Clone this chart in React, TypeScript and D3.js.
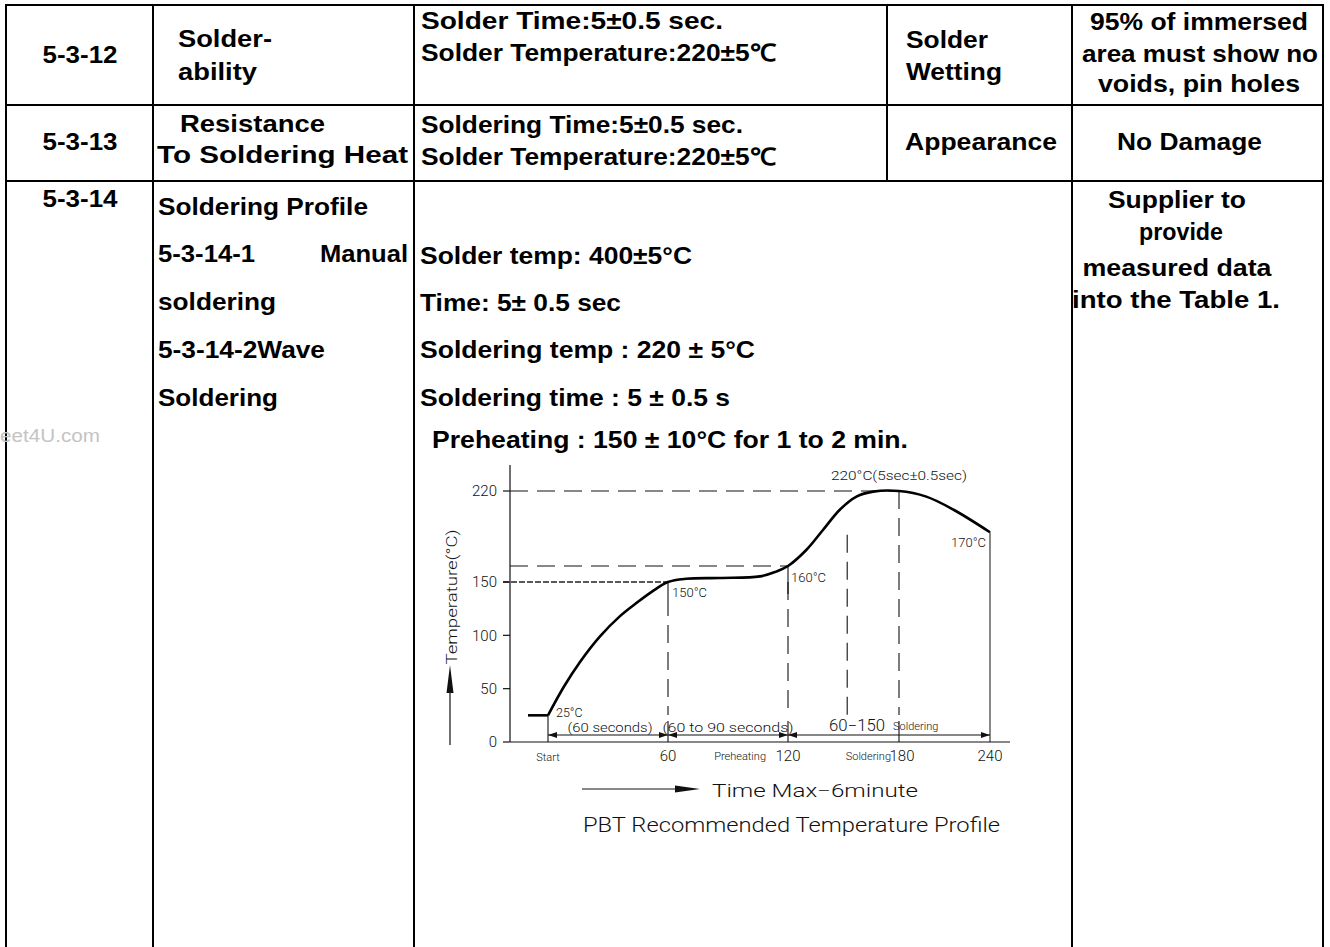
import * as d3 from "d3";

// chart values
const TIME_TICKS = [0, 60, 120, 180, 240];
const TIME_TICK_LABELS = ["Start", "60", "120", "180", "240"];
const TEMP_TICKS = [0, 50, 100, 150, 220];

const PROFILE_TIME = [0, 8, 16, 26, 36, 44, 52, 60, 69, 86, 106, 114, 120, 130, 139, 148, 157, 166, 180, 198, 216, 240];
const PROFILE_TEMP = [25, 52, 75, 99, 118, 130, 141, 150, 152, 152.5, 153.5, 156.5, 160, 173, 189, 205, 215.5, 219.5, 220, 215.5, 205, 187];
const PRE_START_TIME = [-10, 0];
const PRE_START_TEMP = [25, 25];

const H_GUIDE_TEMPS = [220, 160];
const H_GUIDE_ENDS = [180, 120];
const PREHEAT_TEMP = 150;
const PREHEAT_END = 60;
const V_GUIDE_TIMES = [60, 120, 152, 180];
const V_GUIDE_TOPS = [150, 160, 185, 220];
const DIM_BOUNDS = [0, 60, 120, 240];

type Line = { t: string; x: number; y: number; w: number; fs?: number; a?: "start" | "middle" | "end" };

const TABLE_LINES: Line[] = [
  { t: "5-3-12", x: 80, y: 63, w: 75, fs: 23, a: "middle" },
  { t: "Solder-", x: 178, y: 47, w: 94 },
  { t: "ability", x: 178, y: 80, w: 79 },
  { t: "Solder Time:5±0.5 sec.", x: 421, y: 29, w: 302 },
  { t: "Solder Temperature:220±5℃", x: 421, y: 61, w: 355 },
  { t: "Solder", x: 906, y: 48, w: 82 },
  { t: "Wetting", x: 906, y: 80, w: 96 },
  { t: "95% of immersed", x: 1199, y: 30, w: 218, a: "middle" },
  { t: "area must show no", x: 1200, y: 62, w: 236, a: "middle" },
  { t: "voids, pin holes", x: 1199, y: 92, w: 202, a: "middle" },
  { t: "5-3-13", x: 80, y: 150, w: 75, fs: 23, a: "middle" },
  { t: "Resistance", x: 180, y: 132, w: 145 },
  { t: "To Soldering Heat", x: 157, y: 163, w: 251 },
  { t: "Soldering Time:5±0.5 sec.", x: 421, y: 133, w: 322 },
  { t: "Solder Temperature:220±5℃", x: 421, y: 165, w: 355 },
  { t: "Appearance", x: 905, y: 150, w: 152 },
  { t: "No Damage", x: 1117, y: 150, w: 145 },
  { t: "5-3-14", x: 80, y: 207, w: 75, fs: 23, a: "middle" },
  { t: "Soldering Profile", x: 158, y: 215, w: 210 },
  { t: "5-3-14-1", x: 158, y: 262, w: 97 },
  { t: "Manual", x: 408, y: 262, w: 88, a: "end" },
  { t: "soldering", x: 158, y: 310, w: 118 },
  { t: "5-3-14-2Wave", x: 158, y: 358, w: 167 },
  { t: "Soldering", x: 158, y: 406, w: 120 },
  { t: "Solder temp: 400±5°C", x: 420, y: 264, w: 272 },
  { t: "Time: 5± 0.5 sec", x: 420, y: 311, w: 201 },
  { t: "Soldering temp : 220 ± 5°C", x: 420, y: 358, w: 335 },
  { t: "Soldering time : 5 ± 0.5 s", x: 420, y: 406, w: 310 },
  { t: "Preheating : 150 ± 10°C for 1 to 2 min.", x: 432, y: 448, w: 476 },
  { t: "Supplier to", x: 1177, y: 208, w: 138, a: "middle" },
  { t: "provide", x: 1181, y: 240, w: 84, a: "middle" },
  { t: "measured data", x: 1177, y: 276, w: 189, a: "middle" },
  { t: "into the Table 1.", x: 1176, y: 308, w: 208, a: "middle" },
];

const COLS = [6, 153, 414, 887, 1072, 1323];
const ROWS = [5, 105, 181];

const CAD = "Roboto, 'DejaVu Sans', sans-serif";

export default function App() {
  const x = d3.scaleLinear().domain(TIME_TICKS).range([548, 668, 788, 899, 990]);
  const y = d3.scaleLinear().domain([0, 150, 160, 220]).range([742, 582, 566, 491]);

  const profile = PROFILE_TIME.map((t, i) => [t, PROFILE_TEMP[i]] as [number, number]);
  const preStart = PRE_START_TIME.map((t, i) => [t, PRE_START_TEMP[i]] as [number, number]);
  const curve = d3
    .line<[number, number]>()
    .x((d) => x(d[0]))
    .y((d) => y(d[1]))
    .curve(d3.curveCatmullRom.alpha(0.5));
  const straight = d3
    .line<[number, number]>()
    .x((d) => x(d[0]))
    .y((d) => y(d[1]));

  const x0 = 510;
  const y0 = y(0);
  const dimY = y0 - 7;
  const endTemp = PROFILE_TEMP[PROFILE_TEMP.length - 1];
  const endTime = PROFILE_TIME[PROFILE_TIME.length - 1];

  const arrow = (tip: number, dir: number) =>
    `M${tip},${dimY} L${tip - dir * 9},${dimY - 3} L${tip - dir * 9},${dimY + 3} Z`;

  return (
    <svg
      width={1330}
      height={947}
      style={{ position: "absolute", left: 0, top: 0, display: "block", background: "#fff" }}
    >
      <rect width={1330} height={947} fill="#fff" />
      {/* table grid */}
      <g stroke="#000" strokeWidth={2}>
        {ROWS.map((r) => (
          <line key={r} x1={COLS[0] - 1} x2={COLS[5] + 1} y1={r} y2={r} />
        ))}
        {COLS.map((c) => (
          <line key={c} x1={c} x2={c} y1={ROWS[0]} y2={c === 887 ? ROWS[2] : 947} />
        ))}
      </g>
      <g fontFamily="'Liberation Sans', Arial, sans-serif" fontWeight="bold" fill="#000">
        {TABLE_LINES.map((l, i) => (
          <text
            key={i}
            x={l.x}
            y={l.y}
            fontSize={l.fs ?? 24}
            textAnchor={l.a ?? "start"}
            textLength={l.w}
            lengthAdjust="spacingAndGlyphs"
          >
            {l.t}
          </text>
        ))}
      </g>
      <text x={0} y={442} fontSize={18} fill="#c4c4c4" fontFamily="'Liberation Sans', Arial, sans-serif" textLength={100} lengthAdjust="spacingAndGlyphs">
        eet4U.com
      </text>

      {/* chart */}
      <g fontFamily={CAD} fontWeight={300} fill="#111">
        {/* guides */}
        <g stroke="#111" strokeWidth={1.1} strokeDasharray="18 9" fill="none">
          {H_GUIDE_TEMPS.map((tp, i) => (
            <line key={tp} x1={x0} x2={x(H_GUIDE_ENDS[i])} y1={y(tp)} y2={y(tp)} />
          ))}
          {V_GUIDE_TIMES.map((t, i) => (
            <line key={t} x1={x(t)} x2={x(t)} y1={y(V_GUIDE_TOPS[i]) + (i < 2 ? 16 : 0)} y2={dimY - 20} />
          ))}
        </g>
        <line x1={x0 - 7} x2={x(PREHEAT_END)} y1={y(PREHEAT_TEMP)} y2={y(PREHEAT_TEMP)} stroke="#222" strokeWidth={1.6} strokeDasharray="6 2" />
        {/* leaders and dimension markers */}
        <g stroke="#111" strokeWidth={1.1}>
          <line x1={x(60)} x2={x(60)} y1={y(150)} y2={y(150) + 16} />
          <line x1={x(120)} x2={x(120)} y1={y(160)} y2={y(160) + 28} />
          {[60, 120, 180].map((t) => (
            <line key={t} x1={x(t)} x2={x(t)} y1={dimY - 14} y2={y0} />
          ))}
          <line x1={x(0)} x2={x(0)} y1={y(25)} y2={y0} />
          <line x1={x(endTime)} x2={x(endTime)} y1={y(endTemp)} y2={y0} stroke="#555" strokeWidth={1.4} />
          <line x1={x(DIM_BOUNDS[0])} x2={x(DIM_BOUNDS[DIM_BOUNDS.length - 1])} y1={dimY} y2={dimY} />
        </g>
        {DIM_BOUNDS.slice(1).map((b, i) => (
          <g key={b}>
            <path d={arrow(x(DIM_BOUNDS[i]), -1)} fill="#111" />
            <path d={arrow(x(b), 1)} fill="#111" />
          </g>
        ))}

        {/* axes */}
        <g stroke="#111" strokeWidth={1.2}>
          <line x1={x0} x2={x0} y1={y(220) - 26} y2={y0} />
          <line x1={x0} x2={x(240) + 20} y1={y0} y2={y0} />
          {TEMP_TICKS.map((tp) => (
            <line key={tp} x1={x0 - 7} x2={x0} y1={y(tp)} y2={y(tp)} />
          ))}
        </g>
        {TEMP_TICKS.map((tp) => (
          <text key={tp} x={x0 - 13} y={y(tp)} dy="0.36em" fontSize={15} textAnchor="end">
            {tp}
          </text>
        ))}
        {TIME_TICKS.map((t, i) => (
          <text key={t} x={x(t) + (t === 180 ? 3 : 0)} y={y0 + 19} fontSize={i === 0 ? 11 : 15} textAnchor="middle">
            {TIME_TICK_LABELS[i]}
          </text>
        ))}
        <text x={x(120) - 22} y={y0 + 18} fontSize={11} textAnchor="end">Preheating</text>
        <text x={x(180) - 8} y={y0 + 18} fontSize={11} textAnchor="end">Soldering</text>

        {/* profile curve */}
        <path d={straight(preStart) ?? ""} fill="none" stroke="#000" strokeWidth={2.6} />
        <path d={curve(profile) ?? ""} fill="none" stroke="#000" strokeWidth={2.6} />

        {/* annotations */}
        <text x={x(0) + 8} y={y(25) + 2} fontSize={12.5}>25°C</text>
        <text x={(x(0) + x(60)) / 2 + 2} y={dimY - 3} fontSize={12} textAnchor="middle" textLength={85} lengthAdjust="spacingAndGlyphs">(60 seconds)</text>
        <text x={(x(60) + x(120)) / 2} y={dimY - 3} fontSize={12} textAnchor="middle" textLength={131} lengthAdjust="spacingAndGlyphs">(60 to 90 seconds)</text>
        <text x={x(120) + 41} y={dimY - 4} fontSize={16} textLength={56} lengthAdjust="spacingAndGlyphs">60−150</text>
        <text x={x(120) + 105} y={dimY - 5} fontSize={11}>Soldering</text>
        <text x={x(60) + 4} y={y(150) + 15} fontSize={13}>150°C</text>
        <text x={x(120) + 3} y={y(160) + 16} fontSize={13}>160°C</text>
        <text x={x(endTime) - 4} y={y(endTemp) + 15} fontSize={13} textAnchor="end">170°C</text>
        <text x={x(180)} y={y(220) - 11} fontSize={13} textAnchor="middle" textLength={136} lengthAdjust="spacingAndGlyphs">220°C(5sec±0.5sec)</text>

        {/* y title with arrow */}
        <text transform={`translate(457, 597) rotate(-90)`} fontSize={15} textAnchor="middle" textLength={135} lengthAdjust="spacingAndGlyphs">
          Temperature(°C)
        </text>
        <line x1={450} x2={450} y1={745} y2={690} stroke="#111" strokeWidth={1.2} />
        <path d="M450,665 L446.5,693 L453.5,693 Z" fill="#111" />

        {/* bottom captions */}
        <line x1={582} x2={678} y1={789} y2={789} stroke="#111" strokeWidth={1.2} />
        <path d="M700,789 L675,785.5 L675,792.5 Z" fill="#111" />
        <text x={712} y={797} fontSize={19} textLength={206} lengthAdjust="spacingAndGlyphs">Time  Max−6minute</text>
        <text x={583} y={832} fontSize={21} textLength={417} lengthAdjust="spacingAndGlyphs">PBT  Recommended  Temperature  Profile</text>
      </g>
    </svg>
  );
}
